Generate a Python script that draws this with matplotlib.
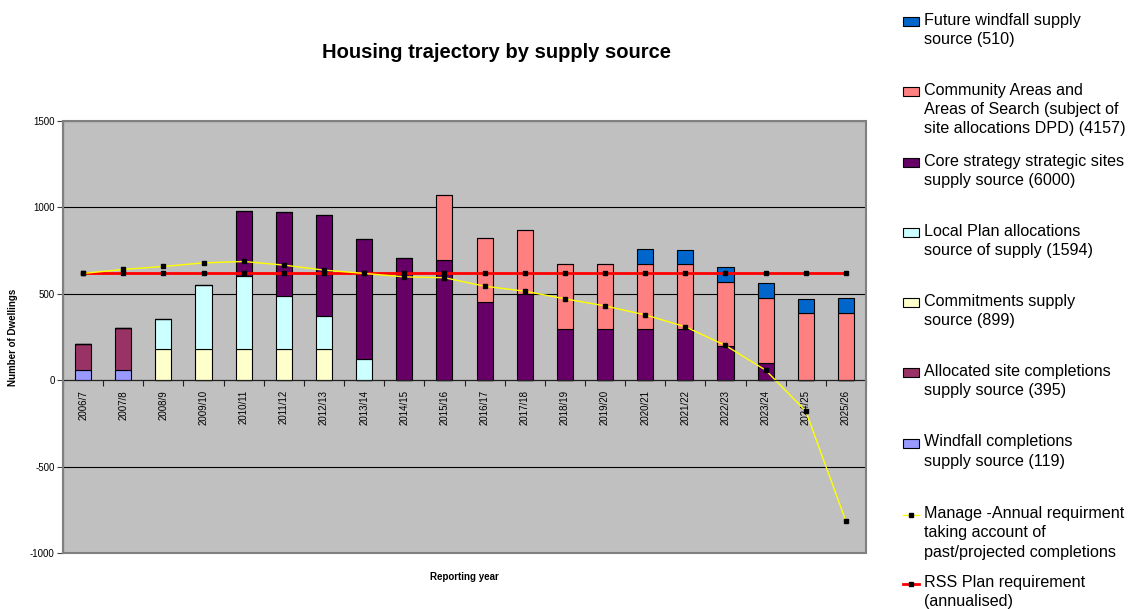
import matplotlib
matplotlib.use("Agg")
import matplotlib.pyplot as plt
from matplotlib.patches import Rectangle
from matplotlib.lines import Line2D
import numpy as np

plt.rcParams['font.family'] = ['Liberation Sans', 'DejaVu Sans']
plt.rcParams['axes.unicode_minus'] = False

# Reporting years
years = ['2006/7', '2007/8', '2008/9', '2009/10', '2010/11', '2011/12', '2012/13',
         '2013/14', '2014/15', '2015/16', '2016/17', '2017/18', '2018/19', '2019/20',
         '2020/21', '2021/22', '2022/23', '2023/24', '2024/25', '2025/26']

# Stacked supply sources (bottom to top)
windfall_completions = [60, 59, 0, 0, 0, 0, 0, 0, 0, 0, 0, 0, 0, 0, 0, 0, 0, 0, 0, 0]
allocated_completions = [150, 245, 0, 0, 0, 0, 0, 0, 0, 0, 0, 0, 0, 0, 0, 0, 0, 0, 0, 0]
commitments = [0, 0, 180, 180, 180, 180, 179, 0, 0, 0, 0, 0, 0, 0, 0, 0, 0, 0, 0, 0]
local_plan = [0, 0, 173, 370, 422, 310, 194, 120, 0, 0, 0, 0, 0, 0, 0, 0, 0, 0, 0, 0]
core_strategy = [0, 0, 0, 0, 380, 483, 581, 700, 708, 695, 450, 496, 297, 297, 297, 297, 199, 98, 0, 0]
community_areas = [0, 0, 0, 0, 0, 0, 0, 0, 0, 376, 374, 376, 377, 377, 377, 373, 372, 375, 386, 388]
future_windfall = [0, 0, 0, 0, 0, 0, 0, 0, 0, 0, 0, 0, 0, 0, 83, 83, 85, 87, 83, 89]

# Lines
manage_req = [618, 641, 658, 679, 687, 666, 637, 618, 598, 593, 544, 515, 471, 430,
              378, 309, 201, 58, -179, -816]
rss_req = [620] * 20

series = [
    ("Windfall completions\nsupply source (119)", windfall_completions, '#9999FF'),
    ("Allocated site completions\nsupply source (395)", allocated_completions, '#993366'),
    ("Commitments supply\nsource (899)", commitments, '#FFFFCC'),
    ("Local Plan allocations\nsource of supply (1594)", local_plan, '#CCFFFF'),
    ("Core strategy strategic sites\nsupply source (6000)", core_strategy, '#660066'),
    ("Community Areas and\nAreas of Search (subject of\nsite allocations DPD) (4157)", community_areas, '#FF8080'),
    ("Future windfall supply\nsource (510)", future_windfall, '#0066CC'),
]
manage_label = "Manage -Annual requirment\ntaking account of\npast/projected completions"
rss_label = "RSS Plan requirement\n(annualised)"

W, H = 1133, 609
fig = plt.figure(figsize=(W / 100, H / 100), dpi=100)
ax = fig.add_axes([63 / W, 1 - 553 / H, (866 - 63) / W, (553 - 121) / H])
ax.set_facecolor('#C0C0C0')

x = np.arange(len(years))
bottom = np.zeros(len(years))
for label, vals, col in series:
    vals = np.array(vals, dtype=float)
    ax.bar(x, vals, 0.4, bottom=bottom, color=col, edgecolor='black', linewidth=0.8, zorder=3)
    bottom += vals

ax.plot(x, rss_req, color='#FF0000', linewidth=2, marker='s', markersize=3.5,
        markerfacecolor='black', markeredgecolor='black', zorder=4)
ax.plot(x, manage_req, color='#FFFF00', linewidth=1, marker='s', markersize=3.5,
        markerfacecolor='black', markeredgecolor='black', zorder=5)

ax.set_xlim(-0.5, len(years) - 0.5)
ax.set_ylim(-1000, 1500)
ax.set_yticks(np.arange(-1000, 1501, 500))
ax.yaxis.grid(True, color='black', linewidth=0.8, zorder=1)
ax.set_axisbelow(True)
ax.tick_params(axis='y', labelsize=7, length=4, width=0.8, color='#404040', pad=2)

# category axis sits on zero
ax.spines['bottom'].set_position(('data', 0))
ax.spines['bottom'].set_color('#202020')
ax.spines['bottom'].set_zorder(6)
ax.spines['top'].set_visible(False)
ax.spines['right'].set_visible(False)
ax.spines['left'].set_color('#404040')
ax.set_xticks(x)
ax.set_xticklabels(years, rotation=90, fontsize=7)
ax.set_xticks(np.arange(-0.5, len(years), 1), minor=True)
ax.tick_params(axis='x', which='major', length=0, pad=7)
ax.tick_params(axis='x', which='minor', length=4, width=0.8, color='#202020')

# plot area frame
ax.add_patch(Rectangle((0, 0), 1, 1, transform=ax.transAxes, fill=False,
                       edgecolor='#808080', linewidth=1.5, clip_on=False, zorder=7))

ax.set_ylabel('Number of Dwellings', fontsize=7, fontweight='bold')
ax.yaxis.set_label_coords((18 - 63) / (866 - 63), 0.5)
ax.set_xlabel('Reporting year', fontsize=7, fontweight='bold')
ax.xaxis.set_label_coords(0.5, (553 - 572) / (553 - 121))

fig.text(496 / W, 1 - 58 / H, 'Housing trajectory by supply source', fontsize=14.5,
         fontweight='bold', ha='center', va='baseline')

# legend, drawn Excel-style with handle next to first text line
leg_rows = [21.7, 91.7, 162.7, 232.7, 302.7, 372.7, 443.3, 515, 584]
entries = [(lab, col) for lab, _, col in reversed(series)]
for (lab, col), yc in zip(entries, leg_rows[:7]):
    fig.add_artist(Rectangle((903 / W, 1 - (yc + 4.5) / H), 16 / W, 9 / H,
                             facecolor=col, edgecolor='black', linewidth=0.8,
                             transform=fig.transFigure))
    fig.text(924 / W, 1 - (yc - 9) / H, lab, fontsize=11.6, va='top', ha='left', linespacing=1.36)

for lab, col, lw, yc in [(manage_label, '#FFFF00', 1, leg_rows[7]),
                         (rss_label, '#FF0000', 2, leg_rows[8])]:
    fig.add_artist(Line2D([903 / W, 919 / W], [1 - yc / H, 1 - yc / H], color=col,
                          linewidth=lw, transform=fig.transFigure))
    fig.add_artist(Line2D([911 / W], [1 - yc / H], marker='s', markersize=3.5, color='black',
                          transform=fig.transFigure))
    fig.text(924 / W, 1 - (yc - 9) / H, lab, fontsize=11.6, va='top', ha='left', linespacing=1.36)

fig.savefig('out.png', dpi=100)
